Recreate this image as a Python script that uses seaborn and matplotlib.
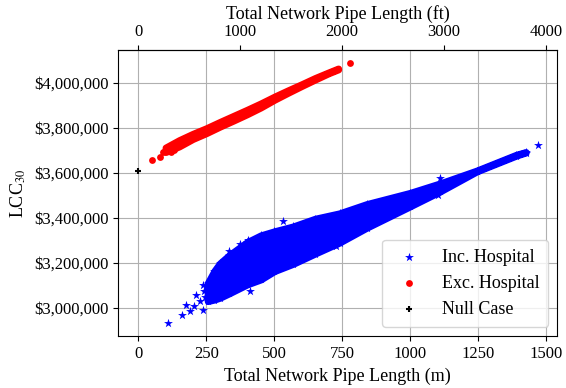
import matplotlib
matplotlib.use("Agg")
import matplotlib.pyplot as plt
import matplotlib.ticker as mticker
import seaborn as sns

# Inc. Hospital: Kern der Punktwolke (Ober-/Unterkante der Punktmitten)
inc_x = [255, 280, 300, 335, 400, 450, 500, 570, 650, 740, 840, 1000, 1110, 1245, 1390, 1425]
inc_upper = [3110000, 3165000, 3198000, 3235000, 3292000, 3322000, 3340000, 3362000, 3396000,
             3420000, 3461000, 3511000, 3553000, 3610000, 3680000, 3692000]
inc_lower = [3030000, 3037000, 3045000, 3065000, 3104000, 3126000, 3163000, 3196000, 3241000,
             3290000, 3356000, 3451000, 3517000, 3606000, 3676000, 3690000]
# einzelne, gut sichtbare Sterne am Rand
inc_pts_x = [109, 160, 176, 191, 204, 212, 237, 237, 225, 245, 240, 262, 301, 332, 374, 403,
             409, 531, 728, 1102, 1108, 1471]
inc_pts_y = [2933000, 2967000, 3012000, 2985000, 3010000, 3059000, 2992000, 3103000, 3030000,
             3050000, 3075000, 3118000, 3184000, 3254000, 3284000, 3303000, 3074000, 3386000,
             3273000, 3502000, 3576000, 3724000]

# Exc. Hospital
exc_x = [100, 150, 200, 250, 300, 350, 400, 450, 500, 550, 600, 650, 700, 735]
exc_upper = [3712000, 3745000, 3773000, 3798000, 3826000, 3853000, 3880000, 3908000, 3938000,
             3966000, 3993000, 4021000, 4046000, 4063000]
exc_lower = [3692000, 3717000, 3750000, 3776000, 3805000, 3832000, 3860000, 3890000, 3924000,
             3955000, 3985000, 4014000, 4042000, 4059000]
exc_pts_x = [49, 81, 90, 120, 131, 157, 777]
exc_pts_y = [3657000, 3672000, 3694000, 3694000, 3700000, 3738000, 4086000]

# Null Case
null_x = [0]
null_y = [3610000]

x_ticks = [0, 250, 500, 750, 1000, 1250, 1500]
y_ticks = [3000000, 3200000, 3400000, 3600000, 3800000, 4000000]
ft_ticks = [0, 1000, 2000, 3000, 4000]

plt.rcParams['font.family'] = ['Liberation Serif', 'DejaVu Serif']
plt.rcParams['mathtext.fontset'] = 'stix'
plt.rcParams['font.size'] = 12

fig = plt.figure(figsize=(5.66, 3.88), dpi=100)
ax = fig.add_axes([0.2085, 0.134, 0.776, 0.737])
ax.grid(True, color='#b0b0b0', linewidth=0.8)
ax.set_axisbelow(True)

# Punktwolken (Kern als Fläche, Rand mit Markern)
ax.fill_between(inc_x, inc_lower, inc_upper, color='blue', linewidth=5, zorder=2)
ax.fill_between(exc_x, exc_lower, exc_upper, color='red', linewidth=5, zorder=2)

sns.scatterplot(x=inc_x, y=inc_upper, marker='*', color='blue', s=45, linewidth=0, ax=ax, zorder=3)
sns.scatterplot(x=inc_x, y=inc_lower, marker='*', color='blue', s=45, linewidth=0, ax=ax, zorder=3)
sns.scatterplot(x=inc_pts_x, y=inc_pts_y, marker='*', color='blue', s=45, linewidth=0, ax=ax,
                zorder=3, label='Inc. Hospital')
sns.scatterplot(x=exc_pts_x, y=exc_pts_y, marker='o', color='red', s=24, linewidth=0, ax=ax,
                zorder=3, label='Exc. Hospital')
sns.scatterplot(x=null_x, y=null_y, marker='+', color='black', s=18, linewidth=1.5, ax=ax,
                zorder=3, label='Null Case')

ax.set_xlim(-75, 1541)
ax.set_ylim(2875000, 4145000)
ax.set_xticks(x_ticks)
ax.set_yticks(y_ticks)
ax.yaxis.set_major_formatter(mticker.StrMethodFormatter('${x:,.0f}'))

ax.set_xlabel('Total Network Pipe Length (m)', fontsize=13)
ax.set_ylabel('LCC$_{30}$', fontsize=13)

# obere Achse in Fuß
top = ax.secondary_xaxis('top', functions=(lambda m: m * 8 / 3, lambda f: f * 3 / 8))
top.set_xticks(ft_ticks)
top.set_xlabel('Total Network Pipe Length (ft)', fontsize=13)

ax.legend(loc='lower right', fontsize=13, borderpad=0.5)

plt.savefig('out.png', dpi=100)
